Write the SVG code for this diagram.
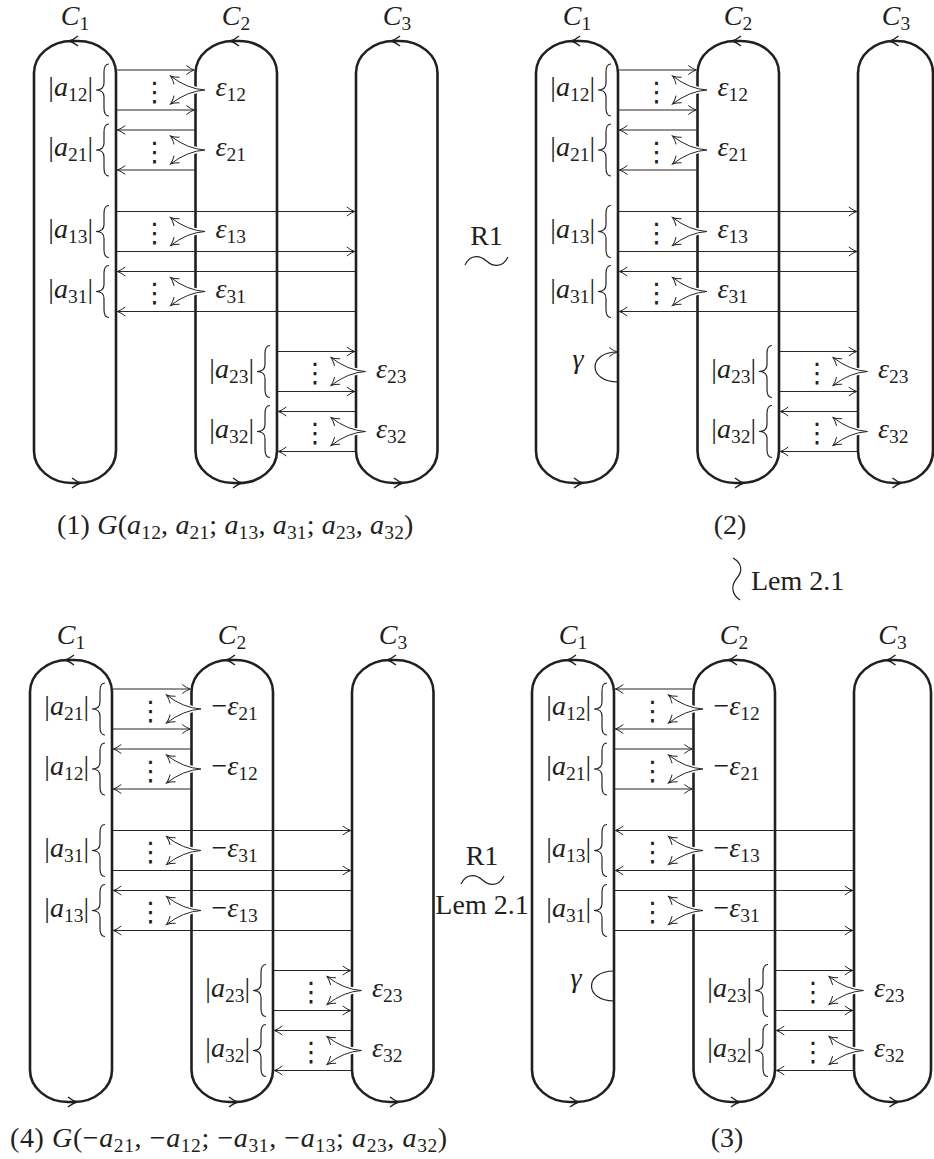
<svg xmlns="http://www.w3.org/2000/svg" xmlns:xlink="http://www.w3.org/1999/xlink" width="934" height="1159" viewBox="0 0 934 1159">
<style>
.cn{fill:none;stroke:#231f1c;stroke-width:2.6}
.ar{fill:none;stroke:#2a2523;stroke-width:1.1;marker-end:url(#ah)}
.br{fill:none;stroke:#2a2523;stroke-width:1.2}
.halo{fill:none;stroke:#fff;stroke-width:4}
.ep{fill:none;stroke:#2a2523;stroke-width:1;marker-start:url(#ah);marker-end:url(#ah)}
.ch{fill:none;stroke:#231f1c;stroke-width:1.4}
.lp{fill:none;stroke:#231f1c;stroke-width:1.2}
.lpa{fill:none;stroke:#231f1c;stroke-width:1.2;marker-end:url(#ah)}
.sq{fill:none;stroke:#231f1c;stroke-width:1.2}
.t{font-family:"Liberation Serif","DejaVu Serif",serif;font-size:28px;fill:#231f1c}
.i{font-style:italic}
.s{font-size:19.5px}
.dt{font-family:"DejaVu Sans",sans-serif;font-size:27px;fill:#231f1c;text-anchor:middle}
.m{text-anchor:middle}
.e{text-anchor:end}
</style>
<defs>
<marker id="ah" markerUnits="userSpaceOnUse" markerWidth="14" markerHeight="14" viewBox="-12 -7 14 14" refX="0" refY="0" orient="auto-start-reverse"><path d="M-8,-4.5 Q-3.5,-1 0,0 Q-3.5,1 -8,4.5" fill="none" stroke="#2a2523" stroke-width="1"/></marker>
<path id="brace" d="M13,-26 Q8,-26 8,-18 L8,-7 Q8,0 0,0 Q8,0 8,7 L8,18 Q8,26 13,26"/>
<path id="epsP" d="M-25,-14 Q-8,-1 9.5,0 Q-8,1 -25,14"/>
<path id="hd" d="M-9,-5 Q-4,-1 0,0 Q-4,1 -9,5"/>
</defs>
<rect width="934" height="1159" fill="#fff"/>

<!-- ================= PANEL 1 ================= -->
<g id="panel1">
<g id="p1-C1"><rect class="cn" x="34" y="41" width="82" height="442" rx="38" ry="32"/><use href="#hd" class="ch" transform="translate(69,41) rotate(180)"/><use href="#hd" class="ch" transform="translate(81,483)"/><text class="t m" x="75" y="25"><tspan class="i">C</tspan><tspan class="s" dy="5">1</tspan></text></g>
<g id="p1-C2"><rect class="cn" x="195.5" y="41" width="81.5" height="442" rx="38" ry="32"/><use href="#hd" class="ch" transform="translate(230,41) rotate(180)"/><use href="#hd" class="ch" transform="translate(242,483)"/><text class="t m" x="236" y="25"><tspan class="i">C</tspan><tspan class="s" dy="5">2</tspan></text></g>
<g id="p1-C3"><rect class="cn" x="356" y="41" width="81.5" height="442" rx="38" ry="32"/><use href="#hd" class="ch" transform="translate(391,41) rotate(180)"/><use href="#hd" class="ch" transform="translate(403,483)"/><text class="t m" x="397" y="25"><tspan class="i">C</tspan><tspan class="s" dy="5">3</tspan></text></g>
<g id="p1-connectors">
<line class="ar" x1="117" y1="70" x2="194.3" y2="70"/><line class="ar" x1="117" y1="110" x2="194.3" y2="110"/>
<line class="ar" x1="194.5" y1="130" x2="117.3" y2="130"/><line class="ar" x1="194.5" y1="170" x2="117.3" y2="170"/>
<line class="ar" x1="117" y1="211.5" x2="354.8" y2="211.5"/><line class="ar" x1="117" y1="251.5" x2="354.8" y2="251.5"/>
<line class="ar" x1="355" y1="271.5" x2="117.3" y2="271.5"/><line class="ar" x1="355" y1="311.5" x2="117.3" y2="311.5"/>
<line class="ar" x1="278" y1="351.5" x2="354.8" y2="351.5"/><line class="ar" x1="278" y1="391.5" x2="354.8" y2="391.5"/>
<line class="ar" x1="355" y1="411.5" x2="278.3" y2="411.5"/><line class="ar" x1="355" y1="451.5" x2="278.3" y2="451.5"/>
<use href="#brace" class="br" transform="translate(96,90)"/><use href="#brace" class="br" transform="translate(96,150)"/><use href="#brace" class="br" transform="translate(96,231.5)"/><use href="#brace" class="br" transform="translate(96,291.5)"/><use href="#brace" class="br" transform="translate(257,371.5)"/><use href="#brace" class="br" transform="translate(257,431.5)"/>
<use href="#epsP" class="halo" transform="translate(195.5,90)"/><use href="#epsP" class="ep" transform="translate(195.5,90)"/>
<use href="#epsP" class="halo" transform="translate(195.5,150)"/><use href="#epsP" class="ep" transform="translate(195.5,150)"/>
<use href="#epsP" class="halo" transform="translate(195.5,231.5)"/><use href="#epsP" class="ep" transform="translate(195.5,231.5)"/>
<use href="#epsP" class="halo" transform="translate(195.5,291.5)"/><use href="#epsP" class="ep" transform="translate(195.5,291.5)"/>
<use href="#epsP" class="halo" transform="translate(356,371.5)"/><use href="#epsP" class="ep" transform="translate(356,371.5)"/>
<use href="#epsP" class="halo" transform="translate(356,431.5)"/><use href="#epsP" class="ep" transform="translate(356,431.5)"/>
</g>
<g id="p1-labels">
<text class="dt" x="154.5" y="100.5">⋮</text><text class="dt" x="154.5" y="160.5">⋮</text><text class="dt" x="154.5" y="242">⋮</text><text class="dt" x="154.5" y="302">⋮</text><text class="dt" x="315" y="382">⋮</text><text class="dt" x="315" y="442">⋮</text>
<text class="t e" x="93" y="96">|<tspan class="i">a</tspan><tspan class="s" dy="5">12</tspan><tspan dy="-5">|</tspan></text>
<text class="t e" x="93" y="156">|<tspan class="i">a</tspan><tspan class="s" dy="5">21</tspan><tspan dy="-5">|</tspan></text>
<text class="t e" x="93" y="237.5">|<tspan class="i">a</tspan><tspan class="s" dy="5">13</tspan><tspan dy="-5">|</tspan></text>
<text class="t e" x="93" y="297.5">|<tspan class="i">a</tspan><tspan class="s" dy="5">31</tspan><tspan dy="-5">|</tspan></text>
<text class="t e" x="254" y="377.5">|<tspan class="i">a</tspan><tspan class="s" dy="5">23</tspan><tspan dy="-5">|</tspan></text>
<text class="t e" x="254" y="437.5">|<tspan class="i">a</tspan><tspan class="s" dy="5">32</tspan><tspan dy="-5">|</tspan></text>
<text class="t" x="215.5" y="96"><tspan class="i">ε</tspan><tspan class="s" dy="5">12</tspan></text>
<text class="t" x="215.5" y="156"><tspan class="i">ε</tspan><tspan class="s" dy="5">21</tspan></text>
<text class="t" x="215.5" y="237.5"><tspan class="i">ε</tspan><tspan class="s" dy="5">13</tspan></text>
<text class="t" x="215.5" y="297.5"><tspan class="i">ε</tspan><tspan class="s" dy="5">31</tspan></text>
<text class="t" x="376" y="377.5"><tspan class="i">ε</tspan><tspan class="s" dy="5">23</tspan></text>
<text class="t" x="376" y="437.5"><tspan class="i">ε</tspan><tspan class="s" dy="5">32</tspan></text>
<text class="t" x="57" y="534" letter-spacing="0.15">(1) <tspan class="i">G</tspan>(<tspan class="i">a</tspan><tspan class="s" dy="5">12</tspan><tspan dy="-5">, </tspan><tspan class="i">a</tspan><tspan class="s" dy="5">21</tspan><tspan dy="-5">; </tspan><tspan class="i">a</tspan><tspan class="s" dy="5">13</tspan><tspan dy="-5">, </tspan><tspan class="i">a</tspan><tspan class="s" dy="5">31</tspan><tspan dy="-5">; </tspan><tspan class="i">a</tspan><tspan class="s" dy="5">23</tspan><tspan dy="-5">, </tspan><tspan class="i">a</tspan><tspan class="s" dy="5">32</tspan><tspan dy="-5">)</tspan></text>
</g>
</g>

<!-- ================= PANEL 2 ================= -->
<g id="panel2">
<g id="p2-C1"><rect class="cn" x="536" y="41" width="82" height="442" rx="38" ry="32"/><use href="#hd" class="ch" transform="translate(571,41) rotate(180)"/><use href="#hd" class="ch" transform="translate(583,483)"/><text class="t m" x="577" y="25"><tspan class="i">C</tspan><tspan class="s" dy="5">1</tspan></text></g>
<g id="p2-C2"><rect class="cn" x="697.5" y="41" width="81.5" height="442" rx="38" ry="32"/><use href="#hd" class="ch" transform="translate(732,41) rotate(180)"/><use href="#hd" class="ch" transform="translate(744,483)"/><text class="t m" x="738" y="25"><tspan class="i">C</tspan><tspan class="s" dy="5">2</tspan></text></g>
<g id="p2-C3"><rect class="cn" x="858" y="41" width="75" height="442" rx="36" ry="32"/><use href="#hd" class="ch" transform="translate(889.5,41) rotate(180)"/><use href="#hd" class="ch" transform="translate(901.5,483)"/><text class="t m" x="896" y="25"><tspan class="i">C</tspan><tspan class="s" dy="5">3</tspan></text></g>
<g id="p2-connectors">
<line class="ar" x1="619" y1="70" x2="696.3" y2="70"/><line class="ar" x1="619" y1="110" x2="696.3" y2="110"/>
<line class="ar" x1="696.5" y1="130" x2="619.3" y2="130"/><line class="ar" x1="696.5" y1="170" x2="619.3" y2="170"/>
<line class="ar" x1="619" y1="211.5" x2="856.8" y2="211.5"/><line class="ar" x1="619" y1="251.5" x2="856.8" y2="251.5"/>
<line class="ar" x1="857" y1="271.5" x2="619.3" y2="271.5"/><line class="ar" x1="857" y1="311.5" x2="619.3" y2="311.5"/>
<line class="ar" x1="780" y1="351.5" x2="856.8" y2="351.5"/><line class="ar" x1="780" y1="391.5" x2="856.8" y2="391.5"/>
<line class="ar" x1="857" y1="411.5" x2="780.3" y2="411.5"/><line class="ar" x1="857" y1="451.5" x2="780.3" y2="451.5"/>
<use href="#brace" class="br" transform="translate(598,90)"/><use href="#brace" class="br" transform="translate(598,150)"/><use href="#brace" class="br" transform="translate(598,231.5)"/><use href="#brace" class="br" transform="translate(598,291.5)"/><use href="#brace" class="br" transform="translate(759,371.5)"/><use href="#brace" class="br" transform="translate(759,431.5)"/>
<use href="#epsP" class="halo" transform="translate(697.5,90)"/><use href="#epsP" class="ep" transform="translate(697.5,90)"/>
<use href="#epsP" class="halo" transform="translate(697.5,150)"/><use href="#epsP" class="ep" transform="translate(697.5,150)"/>
<use href="#epsP" class="halo" transform="translate(697.5,231.5)"/><use href="#epsP" class="ep" transform="translate(697.5,231.5)"/>
<use href="#epsP" class="halo" transform="translate(697.5,291.5)"/><use href="#epsP" class="ep" transform="translate(697.5,291.5)"/>
<use href="#epsP" class="halo" transform="translate(858,371.5)"/><use href="#epsP" class="ep" transform="translate(858,371.5)"/>
<use href="#epsP" class="halo" transform="translate(858,431.5)"/><use href="#epsP" class="ep" transform="translate(858,431.5)"/>
<path class="lpa" d="M618,382 C587.5,382 587.5,352 617.3,352"/>
</g>
<g id="p2-labels">
<text class="dt" x="656.5" y="100.5">⋮</text><text class="dt" x="656.5" y="160.5">⋮</text><text class="dt" x="656.5" y="242">⋮</text><text class="dt" x="656.5" y="302">⋮</text><text class="dt" x="817" y="382">⋮</text><text class="dt" x="817" y="442">⋮</text>
<text class="t e" x="595" y="96">|<tspan class="i">a</tspan><tspan class="s" dy="5">12</tspan><tspan dy="-5">|</tspan></text>
<text class="t e" x="595" y="156">|<tspan class="i">a</tspan><tspan class="s" dy="5">21</tspan><tspan dy="-5">|</tspan></text>
<text class="t e" x="595" y="237.5">|<tspan class="i">a</tspan><tspan class="s" dy="5">13</tspan><tspan dy="-5">|</tspan></text>
<text class="t e" x="595" y="297.5">|<tspan class="i">a</tspan><tspan class="s" dy="5">31</tspan><tspan dy="-5">|</tspan></text>
<text class="t e" x="756" y="377.5">|<tspan class="i">a</tspan><tspan class="s" dy="5">23</tspan><tspan dy="-5">|</tspan></text>
<text class="t e" x="756" y="437.5">|<tspan class="i">a</tspan><tspan class="s" dy="5">32</tspan><tspan dy="-5">|</tspan></text>
<text class="t" x="717.5" y="96"><tspan class="i">ε</tspan><tspan class="s" dy="5">12</tspan></text>
<text class="t" x="717.5" y="156"><tspan class="i">ε</tspan><tspan class="s" dy="5">21</tspan></text>
<text class="t" x="717.5" y="237.5"><tspan class="i">ε</tspan><tspan class="s" dy="5">13</tspan></text>
<text class="t" x="717.5" y="297.5"><tspan class="i">ε</tspan><tspan class="s" dy="5">31</tspan></text>
<text class="t" x="878" y="377.5"><tspan class="i">ε</tspan><tspan class="s" dy="5">23</tspan></text>
<text class="t" x="878" y="437.5"><tspan class="i">ε</tspan><tspan class="s" dy="5">32</tspan></text>
<text class="t i m" x="578" y="368">γ</text>
<text class="t m" x="730" y="534">(2)</text>
</g>
</g>

<!-- ================= PANEL 3 ================= -->
<g id="panel3">
<g id="p3-C1"><rect class="cn" x="532" y="660" width="82" height="442" rx="38" ry="32"/><use href="#hd" class="ch" transform="translate(567,660) rotate(180)"/><use href="#hd" class="ch" transform="translate(579,1102)"/><text class="t m" x="573" y="644"><tspan class="i">C</tspan><tspan class="s" dy="5">1</tspan></text></g>
<g id="p3-C2"><rect class="cn" x="693.5" y="660" width="81.5" height="442" rx="38" ry="32"/><use href="#hd" class="ch" transform="translate(728,660) rotate(180)"/><use href="#hd" class="ch" transform="translate(740,1102)"/><text class="t m" x="734" y="644"><tspan class="i">C</tspan><tspan class="s" dy="5">2</tspan></text></g>
<g id="p3-C3"><rect class="cn" x="854" y="660" width="77" height="442" rx="37" ry="32"/><use href="#hd" class="ch" transform="translate(886.5,660) rotate(180)"/><use href="#hd" class="ch" transform="translate(898.5,1102)"/><text class="t m" x="892.5" y="644"><tspan class="i">C</tspan><tspan class="s" dy="5">3</tspan></text></g>
<g id="p3-connectors">
<line class="ar" x1="692.5" y1="689" x2="615.3" y2="689"/><line class="ar" x1="692.5" y1="729" x2="615.3" y2="729"/>
<line class="ar" x1="615" y1="749" x2="692.3" y2="749"/><line class="ar" x1="615" y1="789" x2="692.3" y2="789"/>
<line class="ar" x1="853" y1="830.5" x2="615.3" y2="830.5"/><line class="ar" x1="853" y1="870.5" x2="615.3" y2="870.5"/>
<line class="ar" x1="615" y1="890.5" x2="852.8" y2="890.5"/><line class="ar" x1="615" y1="930.5" x2="852.8" y2="930.5"/>
<line class="ar" x1="776" y1="970.5" x2="852.8" y2="970.5"/><line class="ar" x1="776" y1="1010.5" x2="852.8" y2="1010.5"/>
<line class="ar" x1="853" y1="1030.5" x2="776.3" y2="1030.5"/><line class="ar" x1="853" y1="1070.5" x2="776.3" y2="1070.5"/>
<use href="#brace" class="br" transform="translate(594,709)"/><use href="#brace" class="br" transform="translate(594,769)"/><use href="#brace" class="br" transform="translate(594,850.5)"/><use href="#brace" class="br" transform="translate(594,910.5)"/><use href="#brace" class="br" transform="translate(755,990.5)"/><use href="#brace" class="br" transform="translate(755,1050.5)"/>
<use href="#epsP" class="halo" transform="translate(693.5,709)"/><use href="#epsP" class="ep" transform="translate(693.5,709)"/>
<use href="#epsP" class="halo" transform="translate(693.5,769)"/><use href="#epsP" class="ep" transform="translate(693.5,769)"/>
<use href="#epsP" class="halo" transform="translate(693.5,850.5)"/><use href="#epsP" class="ep" transform="translate(693.5,850.5)"/>
<use href="#epsP" class="halo" transform="translate(693.5,910.5)"/><use href="#epsP" class="ep" transform="translate(693.5,910.5)"/>
<use href="#epsP" class="halo" transform="translate(854,990.5)"/><use href="#epsP" class="ep" transform="translate(854,990.5)"/>
<use href="#epsP" class="halo" transform="translate(854,1050.5)"/><use href="#epsP" class="ep" transform="translate(854,1050.5)"/>
<path class="lp" d="M614,1001 C584,1001 584,971 614,971"/>
</g>
<g id="p3-labels">
<text class="dt" x="652.5" y="719.5">⋮</text><text class="dt" x="652.5" y="779.5">⋮</text><text class="dt" x="652.5" y="861">⋮</text><text class="dt" x="652.5" y="921">⋮</text><text class="dt" x="813" y="1001">⋮</text><text class="dt" x="813" y="1061">⋮</text>
<text class="t e" x="591" y="715">|<tspan class="i">a</tspan><tspan class="s" dy="5">12</tspan><tspan dy="-5">|</tspan></text>
<text class="t e" x="591" y="775">|<tspan class="i">a</tspan><tspan class="s" dy="5">21</tspan><tspan dy="-5">|</tspan></text>
<text class="t e" x="591" y="856.5">|<tspan class="i">a</tspan><tspan class="s" dy="5">13</tspan><tspan dy="-5">|</tspan></text>
<text class="t e" x="591" y="916.5">|<tspan class="i">a</tspan><tspan class="s" dy="5">31</tspan><tspan dy="-5">|</tspan></text>
<text class="t e" x="752" y="996.5">|<tspan class="i">a</tspan><tspan class="s" dy="5">23</tspan><tspan dy="-5">|</tspan></text>
<text class="t e" x="752" y="1056.5">|<tspan class="i">a</tspan><tspan class="s" dy="5">32</tspan><tspan dy="-5">|</tspan></text>
<text class="t" x="713.5" y="715">−<tspan class="i">ε</tspan><tspan class="s" dy="5">12</tspan></text>
<text class="t" x="713.5" y="775">−<tspan class="i">ε</tspan><tspan class="s" dy="5">21</tspan></text>
<text class="t" x="713.5" y="856.5">−<tspan class="i">ε</tspan><tspan class="s" dy="5">13</tspan></text>
<text class="t" x="713.5" y="916.5">−<tspan class="i">ε</tspan><tspan class="s" dy="5">31</tspan></text>
<text class="t" x="874" y="996.5"><tspan class="i">ε</tspan><tspan class="s" dy="5">23</tspan></text>
<text class="t" x="874" y="1056.5"><tspan class="i">ε</tspan><tspan class="s" dy="5">32</tspan></text>
<text class="t i m" x="576" y="987">γ</text>
<text class="t m" x="727" y="1147">(3)</text>
</g>
</g>

<!-- ================= PANEL 4 ================= -->
<g id="panel4">
<g id="p4-C1"><rect class="cn" x="30" y="660" width="82" height="442" rx="38" ry="32"/><use href="#hd" class="ch" transform="translate(65,660) rotate(180)"/><use href="#hd" class="ch" transform="translate(77,1102)"/><text class="t m" x="71" y="644"><tspan class="i">C</tspan><tspan class="s" dy="5">1</tspan></text></g>
<g id="p4-C2"><rect class="cn" x="191.5" y="660" width="81.5" height="442" rx="38" ry="32"/><use href="#hd" class="ch" transform="translate(226,660) rotate(180)"/><use href="#hd" class="ch" transform="translate(238,1102)"/><text class="t m" x="232" y="644"><tspan class="i">C</tspan><tspan class="s" dy="5">2</tspan></text></g>
<g id="p4-C3"><rect class="cn" x="352" y="660" width="81.5" height="442" rx="38" ry="32"/><use href="#hd" class="ch" transform="translate(387,660) rotate(180)"/><use href="#hd" class="ch" transform="translate(399,1102)"/><text class="t m" x="393" y="644"><tspan class="i">C</tspan><tspan class="s" dy="5">3</tspan></text></g>
<g id="p4-connectors">
<line class="ar" x1="113" y1="689" x2="190.3" y2="689"/><line class="ar" x1="113" y1="729" x2="190.3" y2="729"/>
<line class="ar" x1="190.5" y1="749" x2="113.3" y2="749"/><line class="ar" x1="190.5" y1="789" x2="113.3" y2="789"/>
<line class="ar" x1="113" y1="830.5" x2="350.8" y2="830.5"/><line class="ar" x1="113" y1="870.5" x2="350.8" y2="870.5"/>
<line class="ar" x1="351" y1="890.5" x2="113.3" y2="890.5"/><line class="ar" x1="351" y1="930.5" x2="113.3" y2="930.5"/>
<line class="ar" x1="274" y1="970.5" x2="350.8" y2="970.5"/><line class="ar" x1="274" y1="1010.5" x2="350.8" y2="1010.5"/>
<line class="ar" x1="351" y1="1030.5" x2="274.3" y2="1030.5"/><line class="ar" x1="351" y1="1070.5" x2="274.3" y2="1070.5"/>
<use href="#brace" class="br" transform="translate(92,709)"/><use href="#brace" class="br" transform="translate(92,769)"/><use href="#brace" class="br" transform="translate(92,850.5)"/><use href="#brace" class="br" transform="translate(92,910.5)"/><use href="#brace" class="br" transform="translate(253,990.5)"/><use href="#brace" class="br" transform="translate(253,1050.5)"/>
<use href="#epsP" class="halo" transform="translate(191.5,709)"/><use href="#epsP" class="ep" transform="translate(191.5,709)"/>
<use href="#epsP" class="halo" transform="translate(191.5,769)"/><use href="#epsP" class="ep" transform="translate(191.5,769)"/>
<use href="#epsP" class="halo" transform="translate(191.5,850.5)"/><use href="#epsP" class="ep" transform="translate(191.5,850.5)"/>
<use href="#epsP" class="halo" transform="translate(191.5,910.5)"/><use href="#epsP" class="ep" transform="translate(191.5,910.5)"/>
<use href="#epsP" class="halo" transform="translate(352,990.5)"/><use href="#epsP" class="ep" transform="translate(352,990.5)"/>
<use href="#epsP" class="halo" transform="translate(352,1050.5)"/><use href="#epsP" class="ep" transform="translate(352,1050.5)"/>
</g>
<g id="p4-labels">
<text class="dt" x="150.5" y="719.5">⋮</text><text class="dt" x="150.5" y="779.5">⋮</text><text class="dt" x="150.5" y="861">⋮</text><text class="dt" x="150.5" y="921">⋮</text><text class="dt" x="311" y="1001">⋮</text><text class="dt" x="311" y="1061">⋮</text>
<text class="t e" x="89" y="715">|<tspan class="i">a</tspan><tspan class="s" dy="5">21</tspan><tspan dy="-5">|</tspan></text>
<text class="t e" x="89" y="775">|<tspan class="i">a</tspan><tspan class="s" dy="5">12</tspan><tspan dy="-5">|</tspan></text>
<text class="t e" x="89" y="856.5">|<tspan class="i">a</tspan><tspan class="s" dy="5">31</tspan><tspan dy="-5">|</tspan></text>
<text class="t e" x="89" y="916.5">|<tspan class="i">a</tspan><tspan class="s" dy="5">13</tspan><tspan dy="-5">|</tspan></text>
<text class="t e" x="250" y="996.5">|<tspan class="i">a</tspan><tspan class="s" dy="5">23</tspan><tspan dy="-5">|</tspan></text>
<text class="t e" x="250" y="1056.5">|<tspan class="i">a</tspan><tspan class="s" dy="5">32</tspan><tspan dy="-5">|</tspan></text>
<text class="t" x="211.5" y="715">−<tspan class="i">ε</tspan><tspan class="s" dy="5">21</tspan></text>
<text class="t" x="211.5" y="775">−<tspan class="i">ε</tspan><tspan class="s" dy="5">12</tspan></text>
<text class="t" x="211.5" y="856.5">−<tspan class="i">ε</tspan><tspan class="s" dy="5">31</tspan></text>
<text class="t" x="211.5" y="916.5">−<tspan class="i">ε</tspan><tspan class="s" dy="5">13</tspan></text>
<text class="t" x="372" y="996.5"><tspan class="i">ε</tspan><tspan class="s" dy="5">23</tspan></text>
<text class="t" x="372" y="1056.5"><tspan class="i">ε</tspan><tspan class="s" dy="5">32</tspan></text>
<text class="t" x="10" y="1147" letter-spacing="0.6">(4) <tspan class="i">G</tspan>(−<tspan class="i">a</tspan><tspan class="s" dy="5">21</tspan><tspan dy="-5">, −</tspan><tspan class="i">a</tspan><tspan class="s" dy="5">12</tspan><tspan dy="-5">; −</tspan><tspan class="i">a</tspan><tspan class="s" dy="5">31</tspan><tspan dy="-5">, −</tspan><tspan class="i">a</tspan><tspan class="s" dy="5">13</tspan><tspan dy="-5">; </tspan><tspan class="i">a</tspan><tspan class="s" dy="5">23</tspan><tspan dy="-5">, </tspan><tspan class="i">a</tspan><tspan class="s" dy="5">32</tspan><tspan dy="-5">)</tspan></text>
</g>
</g>

<!-- ================= MOVES ================= -->
<g id="moves">
<g id="move-R1-top"><text class="t m" x="486.5" y="245">R1</text><path class="sq" d="M465,265 C471,253 481,256 486.5,261 C492,266 502,269 508,257"/></g>
<g id="move-Lem-right"><path class="sq" d="M733,558 C742,563 743,571 737,578 C731,585 731,594 740,600"/><text class="t" x="751" y="590">Lem 2.1</text></g>
<g id="move-R1-bottom"><text class="t m" x="482" y="865">R1</text><path class="sq" d="M461,884 C467,872 477,875 482.5,880 C488,885 498,888 504,876"/><text class="t m" x="482" y="914">Lem 2.1</text></g>
</g>
</svg>
